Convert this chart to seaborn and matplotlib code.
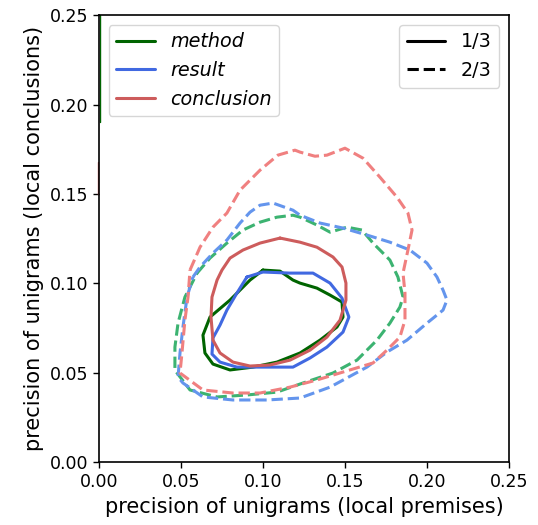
import numpy as np
import pandas as pd
import seaborn as sns
from matplotlib import pyplot as plt
from matplotlib.lines import Line2D

# contour outlines (x = local premises, y = local conclusions)
method_13_x = [0.1000, 0.1104, 0.1183, 0.1226, 0.1329, 0.1409, 0.1482, 0.1488, 0.1451, 0.1348,
               0.1226, 0.1085, 0.0939, 0.0799, 0.0695, 0.0646, 0.0634, 0.0677, 0.0799, 0.0860,
               0.0921, 0.1000]
method_13_y = [0.1074, 0.1068, 0.1018, 0.1001, 0.0973, 0.0934, 0.0895, 0.0811, 0.0755, 0.0682,
               0.0610, 0.0559, 0.0531, 0.0515, 0.0548, 0.0610, 0.0710, 0.0811, 0.0906, 0.0962,
               0.1018, 0.1074]

result_13_x = [0.0902, 0.1000, 0.1165, 0.1305, 0.1409, 0.1482, 0.1524, 0.1488, 0.1390, 0.1287,
               0.1183, 0.1024, 0.0841, 0.0738, 0.0689, 0.0695, 0.0738, 0.0780, 0.0841, 0.0902]
result_13_y = [0.1035, 0.1063, 0.1057, 0.1057, 0.1001, 0.0917, 0.0811, 0.0727, 0.0643, 0.0582,
               0.0531, 0.0531, 0.0531, 0.0559, 0.0604, 0.0694, 0.0766, 0.0850, 0.0945, 0.1035]

conclusion_13_x = [0.1104, 0.0982, 0.0878, 0.0799, 0.0750, 0.0720, 0.0689, 0.0683, 0.0695, 0.0738,
                   0.0817, 0.0921, 0.1043, 0.1165, 0.1287, 0.1390, 0.1470, 0.1506, 0.1506, 0.1482,
                   0.1427, 0.1329, 0.1226, 0.1104]
conclusion_13_y = [0.1253, 0.1225, 0.1186, 0.1141, 0.1074, 0.1018, 0.0923, 0.0811, 0.0682, 0.0610,
                   0.0559, 0.0537, 0.0543, 0.0570, 0.0626, 0.0699, 0.0794, 0.0906, 0.1001, 0.1091,
                   0.1147, 0.1202, 0.1230, 0.1253]

method_23_x = [0.0598, 0.0677, 0.0780, 0.0878, 0.0982, 0.1085, 0.1183, 0.1226, 0.1329, 0.1409,
               0.1512, 0.1604, 0.1671, 0.1774, 0.1823, 0.1854, 0.1835, 0.1774, 0.1695, 0.1573,
               0.1427, 0.1244, 0.1085, 0.0902, 0.0720, 0.0555, 0.0476, 0.0463, 0.0463, 0.0482,
               0.0524, 0.0598]
method_23_y = [0.1057, 0.1141, 0.1225, 0.1298, 0.1342, 0.1370, 0.1381, 0.1370, 0.1326, 0.1286,
               0.1314, 0.1298, 0.1225, 0.1130, 0.1035, 0.0923, 0.0867, 0.0777, 0.0682, 0.0570,
               0.0498, 0.0442, 0.0391, 0.0375, 0.0364, 0.0403, 0.0498, 0.0515, 0.0643, 0.0777,
               0.0923, 0.1057]

result_23_x = [0.0573, 0.0616, 0.0695, 0.0780, 0.0860, 0.0921, 0.0982, 0.1061, 0.1183, 0.1226,
               0.1348, 0.1488, 0.1634, 0.1774, 0.1896, 0.2000, 0.2061, 0.2098, 0.2122, 0.2098,
               0.2000, 0.1878, 0.1756, 0.1634, 0.1409, 0.1226, 0.1024, 0.0817, 0.0634, 0.0512,
               0.0482, 0.0494, 0.0512, 0.0537, 0.0573]
result_23_y = [0.1035, 0.1091, 0.1169, 0.1242, 0.1337, 0.1398, 0.1437, 0.1449, 0.1409, 0.1381,
               0.1337, 0.1309, 0.1270, 0.1230, 0.1186, 0.1113, 0.1035, 0.0962, 0.0906, 0.0850,
               0.0777, 0.0682, 0.0615, 0.0531, 0.0419, 0.0358, 0.0347, 0.0347, 0.0364, 0.0442,
               0.0475, 0.0610, 0.0755, 0.0923, 0.1035]

conclusion_23_x = [0.0555, 0.0616, 0.0695, 0.0780, 0.0860, 0.0982, 0.1091, 0.1195, 0.1226, 0.1317,
                   0.1390, 0.1500, 0.1610, 0.1713, 0.1817, 0.1884, 0.1909, 0.1884, 0.1854, 0.1866,
                   0.1866, 0.1835, 0.1756, 0.1671, 0.1530, 0.1329, 0.1165, 0.0982, 0.0817, 0.0634,
                   0.0494, 0.0506, 0.0524, 0.0543, 0.0555]
conclusion_23_y = [0.1074, 0.1202, 0.1314, 0.1393, 0.1521, 0.1633, 0.1717, 0.1745, 0.1734, 0.1711,
                   0.1717, 0.1756, 0.1700, 0.1594, 0.1482, 0.1393, 0.1298, 0.1186, 0.1057, 0.0945,
                   0.0794, 0.0699, 0.0626, 0.0554, 0.0515, 0.0459, 0.0419, 0.0386, 0.0386, 0.0403,
                   0.0498, 0.0610, 0.0794, 0.0923, 0.1074]

# bits of contour clipped at the left edge
method_edge_y = [0.19, 0.25]
conclusion_edge_y = [0.15, 0.168]

labels = ['method', 'result', 'conclusion']
colors_13 = ['darkgreen', 'royalblue', 'indianred']
colors_23 = ['mediumseagreen', 'cornflowerblue', 'lightcoral']

sns.set_style('ticks', {'text.color': 'black', 'axes.labelcolor': 'black',
                        'xtick.color': 'black', 'ytick.color': 'black',
                        'axes.edgecolor': 'black'})
fig, ax = plt.subplots(figsize=(5.38, 5.25), dpi=100)
fig.subplots_adjust(left=0.184, right=0.946, top=0.971, bottom=0.12)

contours_23 = [(method_23_x, method_23_y), (result_23_x, result_23_y), (conclusion_23_x, conclusion_23_y)]
contours_13 = [(method_13_x, method_13_y), (result_13_x, result_13_y), (conclusion_13_x, conclusion_13_y)]

for (cx, cy), c in zip(contours_23, colors_23):
    df = pd.DataFrame({'x': cx, 'y': cy})
    sns.lineplot(data=df, x='x', y='y', sort=False, estimator=None, color=c,
                 linewidth=2.2, linestyle='--', ax=ax)
for (cx, cy), c in zip(contours_13, colors_13):
    df = pd.DataFrame({'x': cx, 'y': cy})
    sns.lineplot(data=df, x='x', y='y', sort=False, estimator=None, color=c,
                 linewidth=2.2, ax=ax)

ax.plot([0.0004, 0.0004], method_edge_y, color=colors_13[0], linewidth=1)
ax.plot([-0.0004, -0.0004], conclusion_edge_y, color=colors_13[2], linewidth=1, clip_on=False)

ax.set_xlim(0, 0.25)
ax.set_ylim(0, 0.25)
ax.set_xticks(np.arange(0, 0.26, 0.05))
ax.set_yticks(np.arange(0, 0.26, 0.05))
ax.tick_params(labelsize=12.5, width=1, length=4.5)
for s in ax.spines.values():
    s.set_linewidth(1.2)
ax.set_xlabel('precision of unigrams (local premises)', fontsize=15)
ax.set_ylabel('precision of unigrams (local conclusions)', fontsize=15)

h1 = [Line2D([], [], color=c, linewidth=2.2) for c in colors_13]
leg1 = ax.legend(h1, labels, loc='upper left', prop={'style': 'italic', 'size': 13.8})
ax.add_artist(leg1)
h2 = [Line2D([], [], color='black', linewidth=2.2),
      Line2D([], [], color='black', linewidth=2.2, linestyle='--')]
ax.legend(h2, ['1/3', '2/3'], loc='upper right', fontsize=13.8)

plt.savefig('out.png', dpi=100)
